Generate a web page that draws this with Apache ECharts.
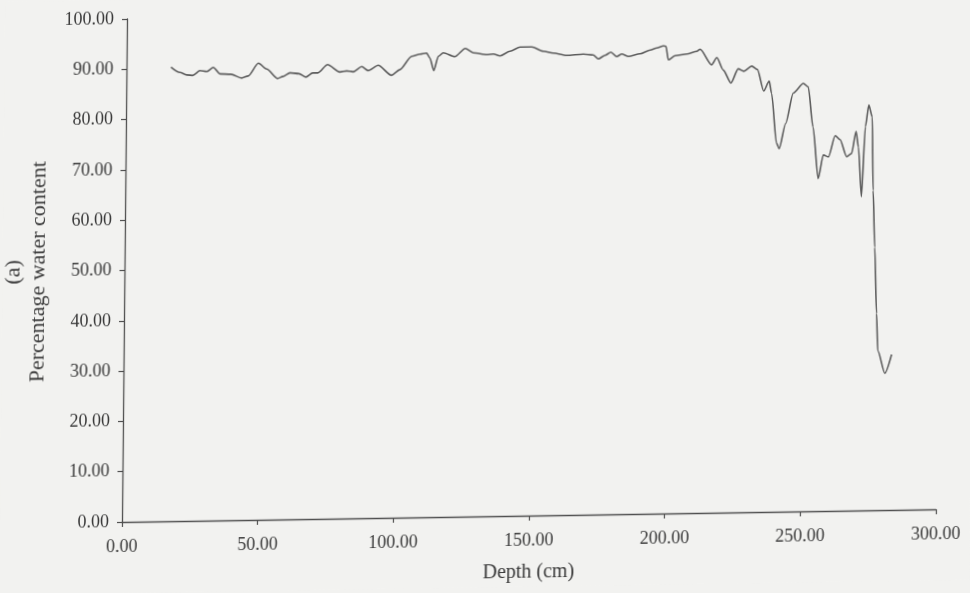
<!DOCTYPE html>
<html>
<head>
<meta charset="utf-8">
<title>Percentage water content vs depth</title>
<script src="https://cdn.jsdelivr.net/npm/echarts/dist/echarts.min.js"></script>
<style>
  html, body { margin: 0; padding: 0; background: #f2f2f0; overflow: hidden; }
  /* the printed page sits slightly askew: x-axis rises to the right, y-axis leans right at the top */
  #chart {
    width: 970px; height: 593px;
    transform-origin: 122px 521.7px;
    transform: matrix(1, -0.0156, -0.00996, 1, 0, 0);
  }
</style>
</head>
<body>
<div id="chart"></div>
<script>
// Core depth (cm) and measured percentage water content
const depthCm = [16.4, 19.7, 22.2, 24.5, 27.1, 29.6, 32.0, 34.5, 38.5, 42.5, 44.9, 48.6, 51.7, 55.7, 57.7,
  60.3, 63.6, 66.2, 68.6, 70.6, 74.1, 78.7, 81.2, 83.6, 86.7, 89.1, 92.8, 97.7, 100.8, 105.1,
  108.1, 110.6, 111.8, 113.3, 114.9, 116.7, 121.0, 124.8, 127.8, 132.8, 135.2, 137.7, 141.3, 145.0,
  149.3, 153.6, 157.3, 162.2, 168.4, 172.0, 173.9, 176.4, 178.5, 180.7, 182.5, 185.0, 189.3, 193.0,
  195.4, 197.9, 198.8, 199.7, 202.2, 206.5, 210.2, 211.4, 215.7, 217.6, 220.0, 222.9, 225.5, 227.6,
  230.5, 232.6, 235.0, 237.0, 237.9, 239.9, 240.9, 243.2, 245.9, 249.6, 251.4, 253.3, 255.4, 257.2,
  259.1, 261.5, 263.3, 265.8, 267.6, 269.2, 270.1, 271.4, 272.6, 273.8, 275.1, 275.7, 276.5, 277.4,
  278.0, 280.7, 283.1];

const waterPct = [90.3, 89.2, 88.7, 88.6, 89.5, 89.3, 90.1, 88.8, 88.7, 87.9, 88.3, 90.8, 89.6, 87.7, 88.1,
  88.8, 88.6, 87.9, 88.7, 88.7, 90.3, 88.8, 89.0, 88.8, 89.8, 89.0, 90.0, 88.0, 89.1, 91.7,
  92.1, 92.3, 91.3, 88.8, 91.6, 92.3, 91.5, 93.1, 92.2, 91.8, 91.9, 91.5, 92.4, 93.2,
  93.2, 92.3, 91.9, 91.4, 91.6, 91.4, 90.6, 91.3, 91.9, 91.0, 91.5, 91.0, 91.5, 92.2,
  92.6, 93.0, 92.9, 90.2, 91.0, 91.3, 91.8, 92.2, 89.1, 90.5, 88.0, 85.4, 88.2, 87.7,
  88.7, 88.0, 83.7, 85.7, 83.2, 73.3, 72.2, 77.2, 83.2, 85.1, 84.4, 76.4, 66.1, 70.8,
  70.4, 74.6, 73.8, 70.4, 71.0, 75.4, 72.3, 62.4, 76.3, 80.6, 78.2, 63.6, 52.3, 39.1,
  31.7, 27.2, 30.9];

// Axis ranges and tick steps
const depthRange = [0, 300];
const depthStep = 50;
const waterRange = [0, 100];
const waterStep = 10;

const xTitle = 'Depth (cm)';
const yTitle = '(a)\nPercentage water content';

const ink = '#3a3a3a';
const axisInk = '#505050';
const serif = '"Liberation Serif", "DejaVu Serif", serif';

const chart = echarts.init(document.getElementById('chart'), null, { renderer: 'canvas' });

const axisCommon = {
  type: 'value',
  axisLine: { show: true, lineStyle: { color: axisInk, width: 1.3 } },
  axisTick: { show: true, inside: false, length: 5, lineStyle: { color: axisInk, width: 1.2 } },
  splitLine: { show: false },
  nameLocation: 'middle'
};

chart.setOption({
  backgroundColor: '#f2f2f0',
  animation: false,
  grid: { left: 122, right: 34, top: 19, bottom: 71, containLabel: false, outerBoundsMode: 'none' },
  xAxis: Object.assign({}, axisCommon, {
    min: depthRange[0], max: depthRange[1], interval: depthStep,
    name: xTitle, nameGap: 47,
    nameTextStyle: { fontFamily: serif, fontSize: 20, color: ink },
    axisLabel: {
      formatter: v => v.toFixed(2), margin: 16,
      fontFamily: serif, fontSize: 18, color: ink
    }
  }),
  yAxis: Object.assign({}, axisCommon, {
    min: waterRange[0], max: waterRange[1], interval: waterStep,
    name: yTitle, nameGap: 73, nameRotate: 90,
    nameTextStyle: { fontFamily: serif, fontSize: 22, color: ink, lineHeight: 25 },
    axisLabel: {
      formatter: v => v.toFixed(2), margin: 13,
      fontFamily: serif, fontSize: 18, color: ink
    }
  }),
  series: [{
    type: 'line',
    data: depthCm.map((d, i) => [d, waterPct[i]]),
    showSymbol: false,
    smooth: 0.25,
    smoothMonotone: 'x',
    lineStyle: { color: '#5c5c5c', width: 1.6 }
  }]
});
</script>
</body>
</html>
